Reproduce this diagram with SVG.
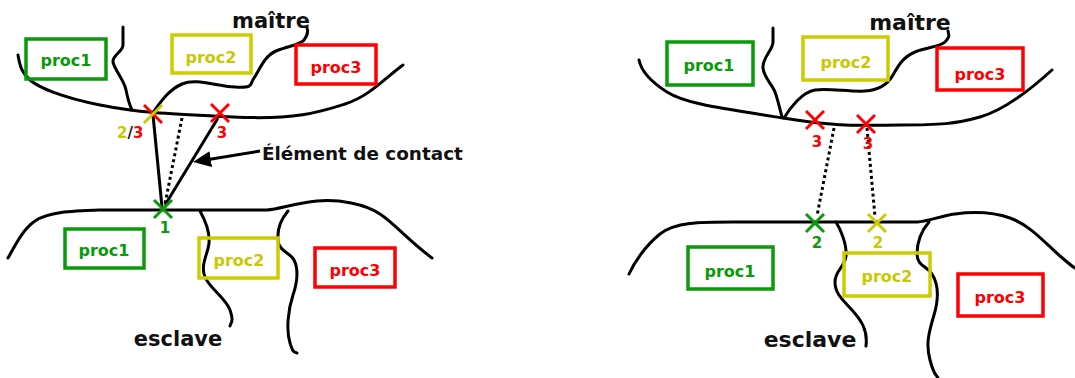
<svg xmlns="http://www.w3.org/2000/svg" width="1075" height="378" viewBox="0 0 1075 378">
<style>
.bd{fill:none;stroke:#000;stroke-width:3;stroke-linecap:round;stroke-linejoin:round}
.box{fill:none;stroke-width:3.5}
.g{stroke:#079b07}.y{stroke:#cccc00}.r{stroke:#ff0000}
.tg{fill:#079b07}.ty{fill:#c8c800}.tr{fill:#ff0000}
.t{font-family:"DejaVu Sans",Verdana,sans-serif;font-weight:bold}
.pl{font-size:16px;text-anchor:middle}
.big{font-size:21px;fill:#111}
.num{font-size:15px;text-anchor:middle}
.x{fill:none;stroke-width:3}
.cl{fill:none;stroke:#000;stroke-width:3}
.dot{fill:none;stroke:#000;stroke-width:3;stroke-dasharray:3 3}
</style>
<defs>
<marker id="ah" viewBox="0 0 18 16" refX="10" refY="8" markerWidth="18" markerHeight="16" markerUnits="userSpaceOnUse" orient="auto">
<path d="M0,0 L18,8 L0,16 z" fill="#000"/>
</marker>
</defs>

<g id="boundaries">
<path class="bd" d="M18,55 C20,67 22,73 30,80 S60,97 100,105 S170,114 233,117 S320,112 345,104 S385,78 403,65"/>
<path class="bd" d="M123,27 L123,45 C123,52 112,55 113,62 S124,80 126,90 S129,104 132,110"/>
<path class="bd" d="M152,114 C160,103 168,90 182,84 S215,86 235,87 S249,85 254,78 S264,56 276,51 S300,45 304,40 S308,31 307,28"/>
<path class="bd" d="M8,258 C15,246 22,230 35,221 S70,211 100,210 L267,210 C280,209 295,203 317,201 S365,204 380,214 S408,240 432,258"/>
<path class="bd" d="M200,211 C205,220 210,232 209,243 S200,265 205,277 S226,298 230,310 S231,322 230,326"/>
<path class="bd" d="M288,211 C282,218 277,228 278,240 S290,252 294,260 S298,280 293,295 S286,330 290,343 S295,351 297,353"/>
<path class="bd" d="M639,60 C641,70 648,80 667,92 S720,108 783,118 S860,125 900,125 S955,124 980,117 S1030,90 1052,70"/>
<path class="bd" d="M773,28 L773,42 C773,50 762,58 763,68 S772,84 775,92 S780,110 782,117"/>
<path class="bd" d="M784,118 C790,108 802,92 815,90 S850,92 865,91 S888,84 893,75 S903,57 915,52 S940,47 945,42 S949,35 948,31"/>
<path class="bd" d="M629,274 C634,263 645,246 660,234 S700,222 733,222 L917,222 C930,221 940,216 955,214 S990,211 1010,218 S1045,243 1060,256 S1072,266 1078,270"/>
<path class="bd" d="M836,222 C841,230 847,245 846,256 S835,270 835,282 S843,300 852,310 S868,330 866,346"/>
<path class="bd" d="M929,222 C922,230 917,242 917,254 S927,266 932,274 S940,295 934,315 S926,345 930,360 S935,373 938,378"/>
</g>

<g id="n-left-m-proc1"><rect class="box g" x="26" y="39" width="80" height="40"/><text class="t pl tg" x="66" y="66">proc1</text></g>
<g id="n-left-m-proc2"><rect class="box y" x="172" y="35" width="79" height="38"/><text class="t pl ty" x="211" y="63">proc2</text></g>
<g id="n-left-m-proc3"><rect class="box r" x="296" y="45" width="80" height="39"/><text class="t pl tr" x="336" y="73">proc3</text></g>
<g id="n-left-s-proc1"><rect class="box g" x="65" y="229" width="79" height="39"/><text class="t pl tg" x="104" y="256">proc1</text></g>
<g id="n-left-s-proc2"><rect class="box y" x="199" y="238" width="79" height="40"/><text class="t pl ty" x="239" y="266">proc2</text></g>
<g id="n-left-s-proc3"><rect class="box r" x="315" y="248" width="80" height="39"/><text class="t pl tr" x="355" y="276">proc3</text></g>

<g id="n-right-m-proc1"><rect class="box g" x="667" y="42" width="86" height="43"/><text class="t pl tg" x="709" y="71">proc1</text></g>
<g id="n-right-m-proc2"><rect class="box y" x="803" y="37" width="85" height="43"/><text class="t pl ty" x="846" y="68">proc2</text></g>
<g id="n-right-m-proc3"><rect class="box r" x="937" y="48" width="86" height="42"/><text class="t pl tr" x="980" y="80">proc3</text></g>
<g id="n-right-s-proc1"><rect class="box g" x="688" y="247" width="85" height="42"/><text class="t pl tg" x="730" y="277">proc1</text></g>
<g id="n-right-s-proc2"><rect class="box y" x="844" y="253" width="86" height="43"/><text class="t pl ty" x="887" y="282">proc2</text></g>
<g id="n-right-s-proc3"><rect class="box r" x="958" y="274" width="85" height="42"/><text class="t pl tr" x="1000" y="303">proc3</text></g>

<g id="titles">
<text class="t big" x="271" y="28" text-anchor="middle">maître</text>
<text class="t big" x="178" y="346" text-anchor="middle">esclave</text>
<text class="t big" x="910" y="30" text-anchor="middle" style="font-size:22px">maître</text>
<text class="t big" x="810" y="347" text-anchor="middle" style="font-size:22px">esclave</text>
<text class="t" x="262" y="160" style="font-size:18.4px;fill:#111">Élément de contact</text>
</g>

<g id="connectors">
<path class="cl" d="M153,115 L162,207"/>
<path class="cl" d="M218,118 L165,205"/>
<path class="dot" d="M182,118 L165,204"/>
<path class="cl" d="M260,151 L200.9,160.7" marker-end="url(#ah)"/>
<path class="dot" d="M834,128 L817,216"/>
<path class="dot" d="M867,128 L875,217"/>
</g>

<g id="n-left-cross23">
<path class="x r" d="M144,105 L162,123"/>
<path class="x y" d="M162,105 L144,123"/>
<text class="t" x="117" y="138" style="font-size:15px"><tspan class="ty">2</tspan><tspan fill="#111">/</tspan><tspan class="tr">3</tspan></text>
</g>
<g id="n-left-cross3">
<path class="x r" d="M211,104 L229,122 M229,104 L211,122"/>
<text class="t num tr" x="222" y="138">3</text>
</g>
<g id="n-left-cross1">
<path class="x g" d="M154,200 L172,218 M172,200 L154,218"/>
<text class="t num tg" x="165" y="233">1</text>
</g>
<g id="n-right-cross3a">
<path class="x r" d="M806,111 L824,129 M824,111 L806,129"/>
<text class="t num tr" x="817" y="147">3</text>
</g>
<g id="n-right-cross3b">
<path class="x r" d="M857,115 L875,133 M875,115 L857,133"/>
<text class="t num tr" x="868" y="149">3</text>
</g>
<g id="n-right-cross2g">
<path class="x g" d="M806,214 L824,232 M824,214 L806,232"/>
<text class="t num tg" x="817" y="248">2</text>
</g>
<g id="n-right-cross2y">
<path class="x y" d="M868,214 L886,232 M886,214 L868,232"/>
<text class="t num ty" x="878" y="248">2</text>
</g>
</svg>
